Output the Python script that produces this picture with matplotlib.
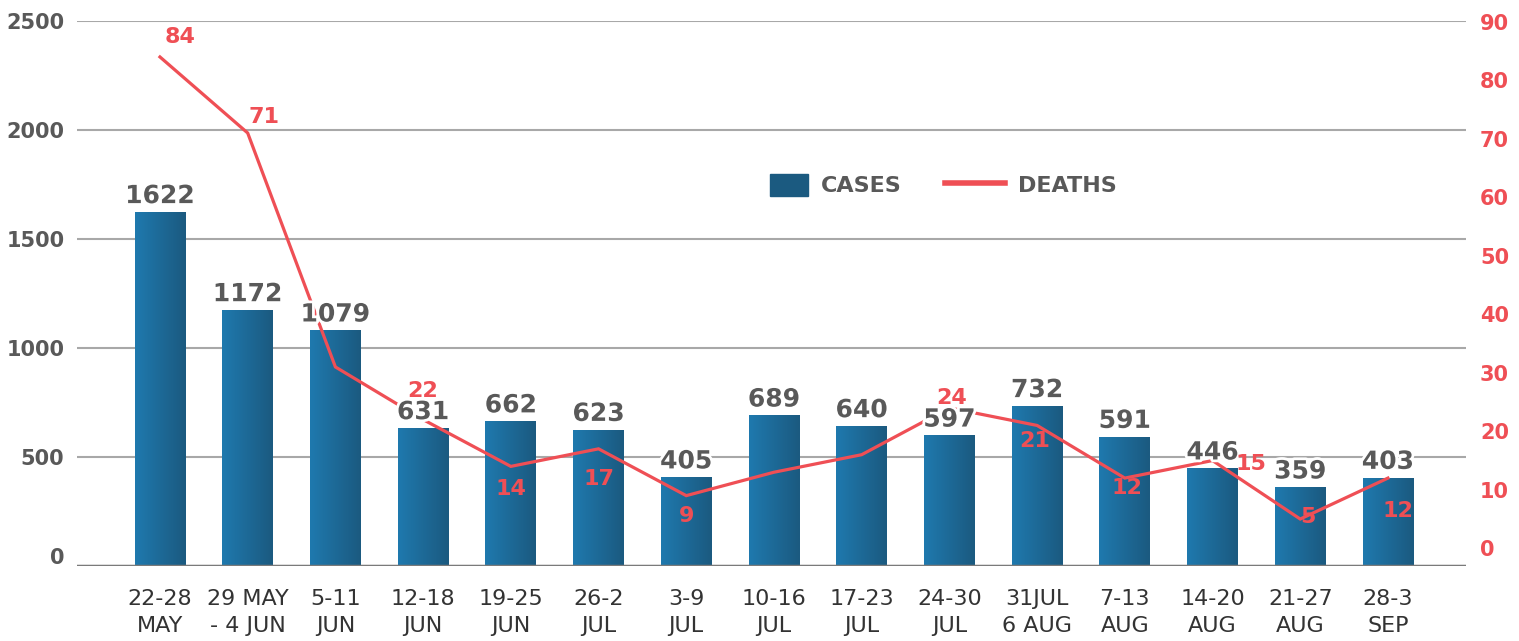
import matplotlib
matplotlib.use("Agg")
import matplotlib.pyplot as plt
import matplotlib.patches as mpatches
import matplotlib.patheffects as pe
from matplotlib.lines import Line2D
from matplotlib.legend_handler import HandlerPatch
from matplotlib.colors import LinearSegmentedColormap
from matplotlib.transforms import ScaledTranslation
import numpy as np

weeks = ['22-28\nMAY', '29 MAY\n- 4 JUN', '5-11\nJUN', '12-18\nJUN', '19-25\nJUN',
         '26-2\nJUL', '3-9\nJUL', '10-16\nJUL', '17-23\nJUL', '24-30\nJUL',
         '31JUL\n6 AUG', '7-13\nAUG', '14-20\nAUG', '21-27\nAUG', '28-3\nSEP']
cases = [1622, 1172, 1079, 631, 662, 623, 405, 689, 640, 597, 732, 591, 446, 359, 403]
# three weeks have no printed label
deaths = [84, 71, 31, 22, 14, 17, 9, 13, 16, 24, 21, 12, 15, 5, 12]
death_labels = ['84', '71', '', '22', '14', '17', '9', '', '', '24', '21', '12', '15', '5', '12']

# label offsets in pixels from each death point
death_offsets = [(20, 20), (16, 16), (0, 0), (0, 29), (0, -23), (0, -30), (0, -20),
                 (0, 0), (0, 0), (2, 10), (-2, -16), (2, -10), (38, -3), (8, 2), (10, -33)]

GRAY = '#595959'
RED = '#ef4f55'
BLUE_L = '#1f79ae'
BLUE_D = '#1b5a80'

plt.rcParams['font.family'] = ['DejaVu Sans']

W, H = 1519, 641
fig = plt.figure(figsize=(W / 100, H / 100), dpi=100)
left, right, top, bottom = 77, 1466, 20.7, 565.7
ax = fig.add_axes([left / W, (H - bottom) / H, (right - left) / W, (bottom - top) / H])

x = np.arange(len(cases))
bw = 0.58
cmap = LinearSegmentedColormap.from_list('bar', [BLUE_L, BLUE_D])
grad = np.linspace(0, 1, 64).reshape(1, -1)
for xi, v in zip(x, cases):
    ax.imshow(grad, cmap=cmap, extent=(xi - bw / 2, xi + bw / 2, 0, v),
              aspect='auto', zorder=2, interpolation='bicubic')

ax.set_xlim(-0.946, 14.89)
ax.set_ylim(0, 2500)
ax.set_yticks(range(0, 2501, 500))
ax.yaxis.grid(True, color='#a8a8a8', lw=1.5)
ax.set_axisbelow(True)
ax.axhline(0, color='#7a7a7a', lw=2.5, zorder=3)
for s in ax.spines.values():
    s.set_visible(False)
ax.tick_params(axis='y', length=0, pad=9, labelsize=15, labelcolor=GRAY)
for lab in ax.get_yticklabels():
    lab.set_fontweight('bold')
ax.get_yticklabels()[0].set_transform(
    ax.get_yticklabels()[0].get_transform() + ScaledTranslation(0, 10 / 100, fig.dpi_scale_trans))
ax.set_xticks(x)
ax.set_xticklabels(weeks, fontsize=16, color='#333333', linespacing=1.4)
ax.tick_params(axis='x', length=0, pad=17)

ax2 = ax.twinx()
for s in ax2.spines.values():
    s.set_visible(False)
ax2.plot(x, deaths, color=RED, lw=2.3, zorder=4, solid_joinstyle='miter')
ax2.set_ylim(-2.98, 90.2)
ax2.set_yticks(range(0, 91, 10))
ax2.tick_params(axis='y', length=0, pad=10, labelsize=15, labelcolor=RED)
for lab in ax2.get_yticklabels():
    lab.set_fontweight('bold')

for xi, v, t, (dx, dy) in zip(x, deaths, death_labels, death_offsets):
    if t:
        ax2.annotate(t, (xi, v), xytext=(dx, dy), textcoords='offset pixels',
                     ha='center', va='center', fontsize=16, fontweight='bold',
                     color=RED, zorder=6)

# case labels sit above the bars, on top of the death line
ymax2 = ax2.get_ylim()
for xi, v in zip(x, cases):
    yv = ymax2[0] + (ymax2[1] - ymax2[0]) * v / 2500
    ax2.annotate(str(v), (xi, yv), xytext=(0, 9), textcoords='offset pixels',
                 ha='center', va='baseline', fontsize=18, fontweight='bold',
                 color=GRAY, zorder=5,
                 path_effects=[pe.withStroke(linewidth=4, foreground='white')])


def box_handle(legend, orig_handle, xdescent, ydescent, width, height, fontsize):
    bw_pt = 27.4
    return mpatches.Rectangle((-xdescent + width - bw_pt, -ydescent), bw_pt, height)


handles = [mpatches.Patch(color=BLUE_D), Line2D([], [], color=RED, lw=4)]
leg = ax2.legend(handles, ['CASES', 'DEATHS'], loc='center', bbox_to_anchor=(0.616, 0.6985),
                 ncol=2, frameon=False, fontsize=16, handlelength=2.7, handleheight=1.17,
                 handletextpad=0.59, columnspacing=1.94,
                 handler_map={mpatches.Patch: HandlerPatch(patch_func=box_handle)})
for t in leg.get_texts():
    t.set_color(GRAY)
    t.set_fontweight('bold')

fig.savefig('out.png', dpi=100)
